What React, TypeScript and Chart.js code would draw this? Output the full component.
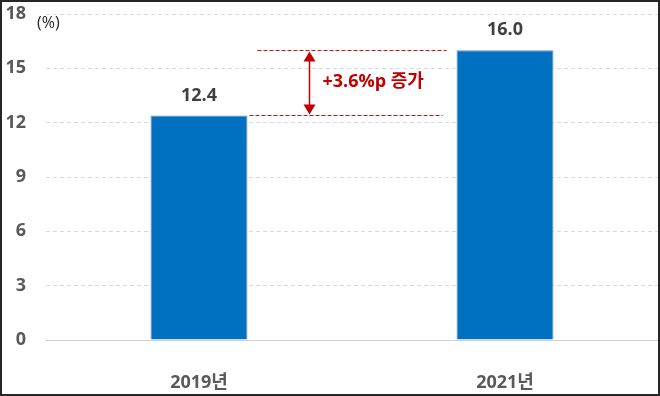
import React, { useEffect, useRef } from "react";
import { Chart, registerables } from "chart.js";

Chart.register(...registerables);

const categories = ["2019년", "2021년"];
const values = [12.4, 16.0];
const yTicks = [0, 3, 6, 9, 12, 15, 18];
const unitLabel = "(%)";
const changeLabel = "+3.6%p 증가";

const FONT = '"Open Sans", "Noto Sans CJK KR", sans-serif';
const RED = "#C00000";

const overlayPlugin = {
  id: "overlay",
  afterDatasetsDraw(chart: any) {
    const { ctx, chartArea, scales } = chart;
    const y = scales.y;
    const meta = chart.getDatasetMeta(0);
    ctx.save();
    // baseline
    ctx.strokeStyle = "#d0d0d0";
    ctx.lineWidth = 1;
    ctx.setLineDash([]);
    const y0 = Math.round(y.getPixelForValue(0)) + 0.5;
    ctx.beginPath();
    ctx.moveTo(chartArea.left, y0);
    ctx.lineTo(chartArea.right, y0);
    ctx.stroke();

    // data labels
    ctx.fillStyle = "#404040";
    ctx.font = `bold 18px ${FONT}`;
    ctx.textAlign = "center";
    ctx.textBaseline = "bottom";
    meta.data.forEach((bar: any, i: number) => {
      ctx.fillText(values[i].toFixed(1), bar.x, bar.y - 11);
    });

    // unit label
    ctx.fillStyle = "#262626";
    ctx.font = `16px ${FONT}`;
    ctx.textAlign = "left";
    ctx.textBaseline = "middle";
    ctx.fillText(unitLabel, chartArea.left - 9, chartArea.top + 9);

    // annotation
    const b1 = meta.data[0];
    const b2 = meta.data[1];
    const b1Right = b1.x + b1.width / 2;
    const b2Left = b2.x - b2.width / 2;
    const yHi = Math.round(y.getPixelForValue(values[1])) + 0.5;
    const yLo = Math.round(y.getPixelForValue(values[0])) + 0.5;
    ctx.strokeStyle = "#D01010";
    ctx.lineWidth = 1;
    ctx.setLineDash([4, 2]);
    ctx.beginPath();
    ctx.moveTo(b1Right + 10, yHi);
    ctx.lineTo(b2Left - 10, yHi);
    ctx.stroke();
    ctx.beginPath();
    ctx.moveTo(b1Right + 2, yLo);
    ctx.lineTo(b2Left - 14, yLo);
    ctx.stroke();
    ctx.setLineDash([]);

    const ax = Math.round(b1Right + 61) + 0.5;
    ctx.strokeStyle = RED;
    ctx.lineWidth = 1.5;
    ctx.beginPath();
    ctx.moveTo(ax, yHi + 6);
    ctx.lineTo(ax, yLo - 6);
    ctx.stroke();
    ctx.fillStyle = RED;
    ctx.beginPath();
    ctx.moveTo(ax, yHi + 1);
    ctx.lineTo(ax - 6, yHi + 11);
    ctx.lineTo(ax + 6, yHi + 11);
    ctx.closePath();
    ctx.fill();
    ctx.beginPath();
    ctx.moveTo(ax, yLo - 1);
    ctx.lineTo(ax - 6, yLo - 11);
    ctx.lineTo(ax + 6, yLo - 11);
    ctx.closePath();
    ctx.fill();

    ctx.font = `bold 18px ${FONT}`;
    ctx.textAlign = "left";
    ctx.textBaseline = "middle";
    ctx.fillText(changeLabel, ax + 13, (yHi + yLo) / 2 - 1);
    ctx.restore();
  },
};

export default function App() {
  const ref = useRef<HTMLCanvasElement>(null);
  useEffect(() => {
    document.body.style.margin = "0";
    const chart = new Chart(ref.current!, {
      type: "bar",
      data: {
        labels: categories,
        datasets: [
          {
            data: values,
            backgroundColor: "#0070C0",
            borderColor: "#6f8fb0",
            borderWidth: 1,
            barPercentage: 1,
            categoryPercentage: 0.317,
          },
        ],
      },
      options: {
        animation: false,
        responsive: false,
        maintainAspectRatio: false,
        layout: { padding: { left: 0, right: 2, top: 14, bottom: 0 } },
        plugins: { legend: { display: false }, tooltip: { enabled: false } },
        scales: {
          x: {
            grid: { display: false },
            border: { display: false },
            ticks: {
              color: "#595959",
              font: { family: FONT, size: 18, weight: "bold" },
              padding: 24,
            },
            afterFit: (s: any) => {
              s.height = 56;
              s.paddingLeft = 0;
              s.paddingRight = 0;
            },
          },
          y: {
            min: 0,
            max: 18,
            afterBuildTicks: (s: any) => {
              s.ticks = yTicks.map((v) => ({ value: v }));
            },
            grid: {
              drawTicks: false,
              color: (c: any) => (c.tick && c.tick.value === 0 ? "rgba(0,0,0,0)" : "#d9d9d9"),
            },
            border: { display: false, dash: [4, 3] },
            ticks: {
              color: "#595959",
              font: { family: FONT, size: 18, weight: "bold" },
              padding: 20,
            },
            afterFit: (s: any) => {
              s.width = 46;
              s.paddingTop = 0;
              s.paddingBottom = 0;
            },
          },
        },
      },
      plugins: [overlayPlugin],
    });
    return () => chart.destroy();
  }, []);
  return (
    <div style={{ position: "relative", width: 660, height: 396 }}>
      <canvas ref={ref} width={660} height={396} style={{ position: "absolute", left: 0, top: 0 }} />
      <div
        style={{
          position: "absolute",
          left: 0,
          top: 0,
          width: 660,
          height: 396,
          boxSizing: "border-box",
          border: "2px solid #262626",
          pointerEvents: "none",
        }}
      />
    </div>
  );
}
